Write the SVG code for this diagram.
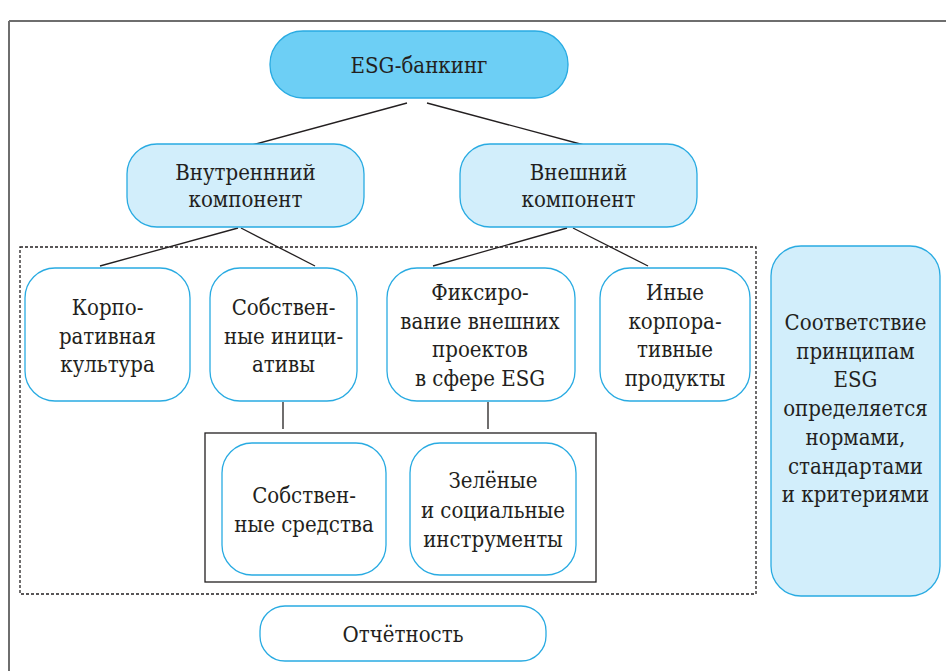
<svg xmlns="http://www.w3.org/2000/svg" width="946" height="671" viewBox="0 0 946 671">
<style>
  .t { font-family: "DejaVu Serif", serif; font-stretch: condensed; font-size: 22px; fill: #231f20; text-anchor: middle; }
  .dark { fill: #6dcff5; stroke: #29abe2; stroke-width: 1.3; }
  .light { fill: #d2eefb; stroke: #29abe2; stroke-width: 1.3; }
  .white { fill: #ffffff; stroke: #29abe2; stroke-width: 1.3; }
  .ln { stroke: #231f20; stroke-width: 1.3; fill: none; }
</style>
<rect width="946" height="671" fill="#ffffff"/>
<g id="frame">
  <line x1="9" y1="21" x2="946" y2="21" stroke="#6e6e6e" stroke-width="2"/>
  <line x1="9" y1="21" x2="9" y2="671" stroke="#6e6e6e" stroke-width="2"/>
</g>
<g id="groups">
  <rect x="20" y="247" width="736" height="347" fill="none" stroke="#231f20" stroke-width="1.3" stroke-dasharray="3 2"/>
  <rect x="205" y="433" width="391" height="149" fill="none" stroke="#231f20" stroke-width="1.3"/>
</g>
<g id="connectors">
  <line class="ln" x1="407" y1="103" x2="252" y2="145"/>
  <line class="ln" x1="427" y1="103" x2="584" y2="145"/>
  <line class="ln" x1="238" y1="228" x2="100" y2="266"/>
  <line class="ln" x1="241" y1="228" x2="315" y2="266"/>
  <line class="ln" x1="567" y1="228" x2="433" y2="266"/>
  <line class="ln" x1="573" y1="228" x2="648" y2="266"/>
  <line class="ln" x1="283" y1="402" x2="283" y2="429"/>
  <line class="ln" x1="488" y1="402" x2="488" y2="429"/>
</g>
<g id="esg">
  <rect class="dark" x="270" y="31" width="298" height="67" rx="33"/>
  <text class="t" x="419" y="73">ESG-банкинг</text>
</g>
<g id="inner">
  <rect class="light" x="127" y="144" width="237" height="83" rx="30"/>
  <text class="t" x="245.5" y="180">Внутреннний</text>
  <text class="t" x="245.5" y="207">компонент</text>
</g>
<g id="outer">
  <rect class="light" x="460" y="144" width="237" height="83" rx="30"/>
  <text class="t" x="578.5" y="180">Внешний</text>
  <text class="t" x="578.5" y="207">компонент</text>
</g>
<g id="korp">
  <rect class="white" x="25" y="268" width="165" height="133" rx="30"/>
  <text class="t" x="107.5" y="315">Корпо-</text>
  <text class="t" x="107.5" y="343.5">ративная</text>
  <text class="t" x="107.5" y="372">культура</text>
</g>
<g id="sobst">
  <rect class="white" x="210" y="268" width="147" height="133" rx="30"/>
  <text class="t" x="283.5" y="315">Собствен-</text>
  <text class="t" x="283.5" y="343.5">ные иници-</text>
  <text class="t" x="283.5" y="372">ативы</text>
</g>
<g id="fiks">
  <rect class="white" x="387" y="268" width="188" height="133" rx="30"/>
  <text class="t" x="480" y="300">Фиксиро-</text>
  <text class="t" x="480" y="328.7">вание внешних</text>
  <text class="t" x="480" y="357.4">проектов</text>
  <text class="t" x="480" y="386">в сфере ESG</text>
</g>
<g id="inye">
  <rect class="white" x="600" y="268" width="150" height="133" rx="30"/>
  <text class="t" x="675" y="300">Иные</text>
  <text class="t" x="675" y="328.7">корпора-</text>
  <text class="t" x="675" y="357.4">тивные</text>
  <text class="t" x="675" y="386">продукты</text>
</g>
<g id="sootv">
  <rect class="light" x="771" y="246" width="169" height="350" rx="30"/>
  <text class="t" x="855.5" y="330">Соответствие</text>
  <text class="t" x="855.5" y="358.7">принципам</text>
  <text class="t" x="855.5" y="387.4">ESG</text>
  <text class="t" x="855.5" y="416">определяется</text>
  <text class="t" x="855.5" y="444.8">нормами,</text>
  <text class="t" x="855.5" y="473.5">стандартами</text>
  <text class="t" x="855.5" y="502">и критериями</text>
</g>
<g id="sredstva">
  <rect class="white" x="222" y="443" width="164" height="132" rx="30"/>
  <text class="t" x="304" y="503">Собствен-</text>
  <text class="t" x="304" y="532">ные средства</text>
</g>
<g id="zelenye">
  <rect class="white" x="410" y="443" width="166" height="132" rx="30"/>
  <text class="t" x="493" y="488">Зелёные</text>
  <text class="t" x="493" y="517.5">и социальные</text>
  <text class="t" x="493" y="547">инструменты</text>
</g>
<g id="otch">
  <rect class="white" x="260" y="606" width="286" height="55" rx="25"/>
  <text class="t" x="403" y="642">Отчётность</text>
</g>
</svg>
